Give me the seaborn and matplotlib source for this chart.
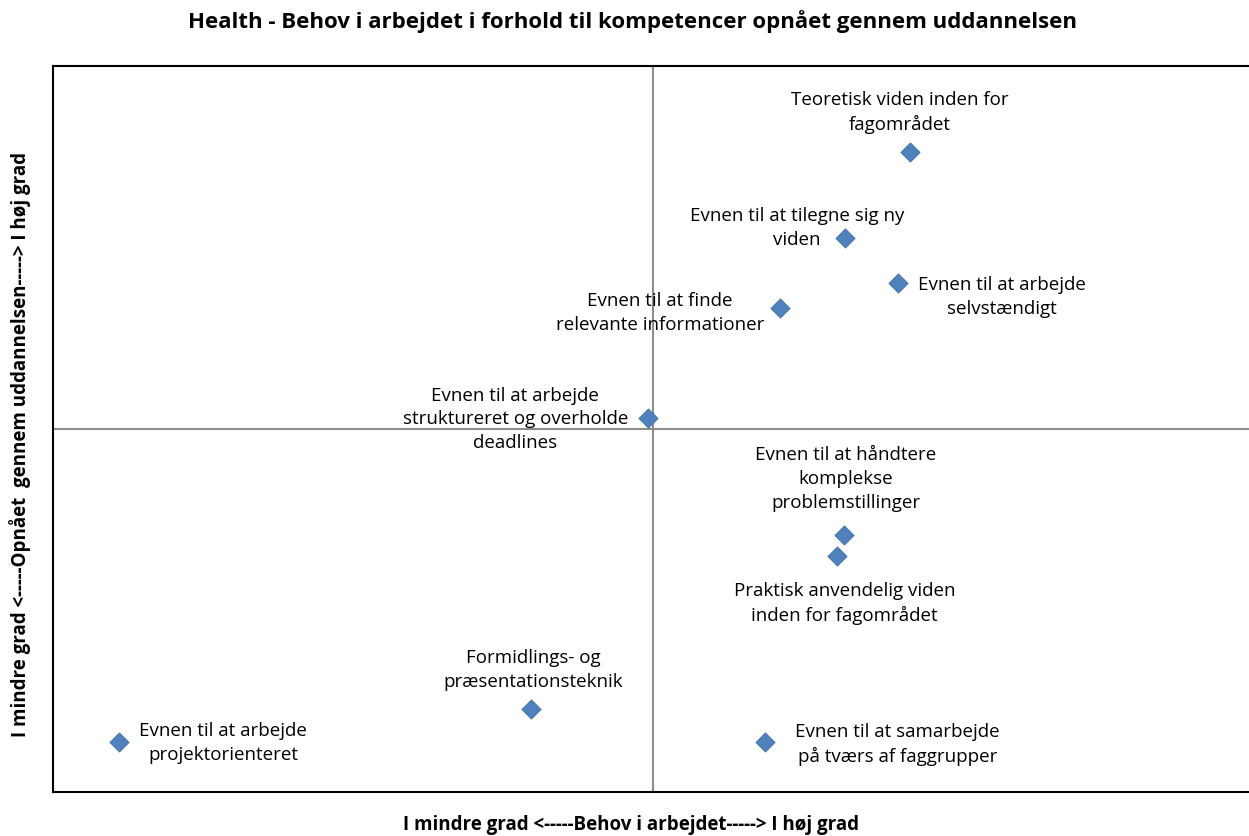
import matplotlib
matplotlib.use("Agg")
import matplotlib.pyplot as plt
import seaborn as sns
import pandas as pd

labels = [
    "Teoretisk viden inden for\nfagområdet",
    "Evnen til at tilegne sig ny\nviden",
    "Evnen til at arbejde\nselvstændigt",
    "Evnen til at finde\nrelevante informationer",
    "Evnen til at arbejde\nstruktureret og overholde\ndeadlines",
    "Evnen til at håndtere\nkomplekse\nproblemstillinger",
    "Praktisk anvendelig viden\ninden for fagområdet",
    "Formidlings- og\npræsentationsteknik",
    "Evnen til at arbejde\nprojektorienteret",
    "Evnen til at samarbejde\npå tværs af faggrupper",
]
behov = [71.4, 66.0, 70.4, 60.6, 49.6, 65.9, 65.3, 39.8, 5.5, 59.3]
opnaaet = [88.2, 76.3, 70.1, 66.7, 51.5, 35.4, 32.5, 11.4, 6.9, 6.9]

# label offsets (pixels) relative to the marker
label_dx = [-10, -48, 104, -120, -133, 2, 8, 3, 104, 133]
label_dy = [40, 11, -13, -4, 0, 57, -46, 40, 0, -2]

df = pd.DataFrame({"behov": behov, "opnaaet": opnaaet, "label": labels})

sns.set_style("white")
plt.rcParams['font.family'] = ['Open Sans', 'DejaVu Sans']
plt.rcParams['text.color'] = 'black'

fig = plt.figure(figsize=(12.49, 8.37), dpi=100)
ax = fig.add_axes([53 / 1249, 1 - 793 / 837, 1200 / 1249, 726 / 837])

ax.axvline(50, color="#8c8c8c", lw=1.5, zorder=1)
ax.axhline(50, color="#8c8c8c", lw=1.5, zorder=1)

sns.scatterplot(data=df, x="behov", y="opnaaet", marker="D", s=95,
                color="#4f81bd", edgecolor="#3f6fa8", linewidth=0.6,
                ax=ax, zorder=3)

for lab, x, y, dx, dy in zip(labels, behov, opnaaet, label_dx, label_dy):
    ax.annotate(lab, (x, y), xytext=(dx, dy), textcoords="offset pixels",
                ha="center", va="center", fontsize=13.5, linespacing=1.4,
                color="black")

ax.set_xlim(0, 100)
ax.set_ylim(0, 100)
ax.set_xticks([])
ax.set_yticks([])
for sp in ax.spines.values():
    sp.set_color("black")
    sp.set_linewidth(1.5)
ax.spines["right"].set_visible(False)

ax.set_xlabel("")
ax.set_ylabel("")
fig.text(632 / 1249, 1 - 22 / 837,
         "Health - Behov i arbejdet i forhold til kompetencer opnået gennem uddannelsen",
         ha="center", va="center", fontsize=16, fontweight="bold")
fig.text(631 / 1249, 1 - 825 / 837,
         "I mindre grad <-----Behov i arbejdet-----> I høj grad",
         ha="center", va="center", fontsize=13.5, fontweight="bold")
fig.text(20 / 1249, 1 - 445 / 837,
         "I mindre grad <-----Opnået  gennem uddannelsen-----> I høj grad",
         ha="center", va="center", rotation=90, fontsize=13.5, fontweight="bold")

fig.savefig("out.png", dpi=100)
